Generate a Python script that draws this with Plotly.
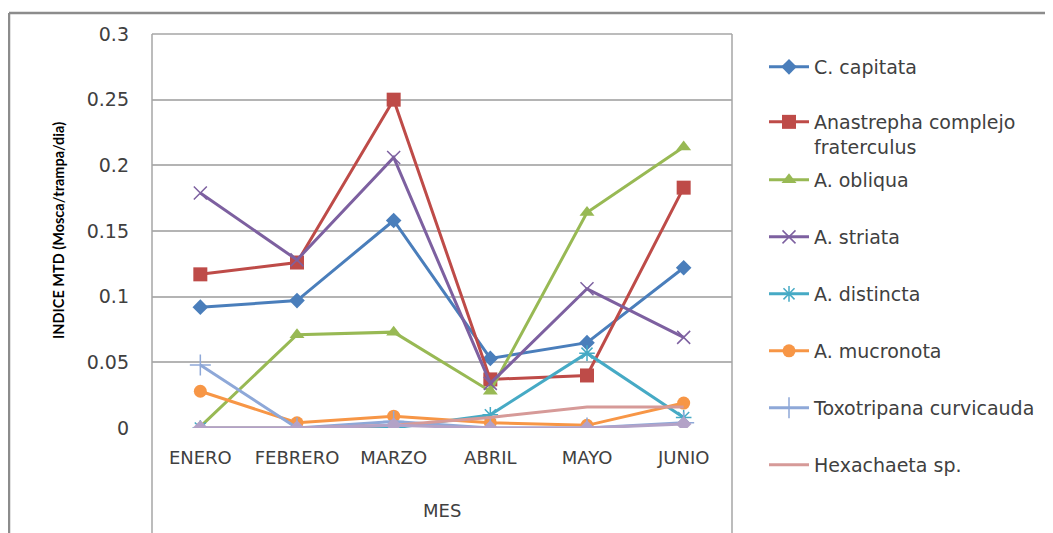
import plotly.graph_objects as go

meses = ["ENERO", "FEBRERO", "MARZO", "ABRIL", "MAYO", "JUNIO"]

c_capitata = [0.092, 0.097, 0.158, 0.053, 0.065, 0.122]
anastrepha_frat = [0.117, 0.126, 0.250, 0.037, 0.040, 0.183]
a_obliqua = [0.001, 0.071, 0.073, 0.028, 0.164, 0.214]
a_striata = [0.179, 0.128, 0.206, 0.034, 0.106, 0.069]
a_distincta = [0.0, 0.0, 0.0, 0.010, 0.057, 0.008]
a_mucronota = [0.028, 0.004, 0.009, 0.004, 0.002, 0.019]
toxotripana = [0.048, 0.0, 0.005, 0.0, 0.0, 0.004]
hexachaeta = [0.0, 0.0, 0.002, 0.008, 0.016, 0.016]
serie9 = [0.0, 0.0, 0.002, 0.0, 0.0, 0.003]

nombres = ["C. capitata", "Anastrepha complejo<br>fraterculus", "A. obliqua", "A. striata",
           "A. distincta", "A. mucronota", "Toxotripana curvicauda", "Hexachaeta sp."]

y_ticks = [0, 0.05, 0.1, 0.15, 0.2, 0.25, 0.3]
y_ticktext = ["0", "0.05", "0.1", "0.15", "0.2", "0.25", "0.3"]

FONT = "DejaVu Sans"
TXT = "#404040"

# page offset (browser body margin) and window size
OFF = 8
WIN_W, WIN_H = 1053, 533
# plot area in screen pixels
L, R, T, B = 152, 732, 34, 428
ph = B - T
pw = R - L

def py(p):
    return (B - p) / ph

def px(p):
    return (p - L) / pw

styles = [
    dict(color="#4A7EBB", symbol="diamond", size=12, lw=0),
    dict(color="#BE4B48", symbol="square", size=14, lw=0),
    dict(color="#98B954", symbol="triangle-up", size=13, lw=0),
    dict(color="#7D60A0", symbol="x-thin-open", size=13, lw=1.5),
    dict(color="#46AAC5", symbol="asterisk-open", size=13, lw=1.5),
    dict(color="#F79646", symbol="circle", size=13, lw=0),
    dict(color="#8EA8D8", symbol="cross-thin-open", size=15, lw=1.5),
    dict(color="#D69A98", symbol=None, size=0, lw=0),
]
series = [c_capitata, anastrepha_frat, a_obliqua, a_striata, a_distincta,
          a_mucronota, toxotripana, hexachaeta]
legend_y = [67, 134.5, 180, 237, 294, 351, 408, 465]

fig = go.Figure()
for i, (vals, st, nm) in enumerate(zip(series, styles, nombres)):
    lname = "legend" if i == 0 else f"legend{i+1}"
    if st["symbol"] is None:
        mode = "lines"
        marker = None
    else:
        mode = "lines+markers"
        marker = dict(symbol=st["symbol"], size=st["size"], color=st["color"],
                      line=dict(color=st["color"], width=st["lw"]))
    fig.add_trace(go.Scatter(x=meses, y=vals, name=nm, mode=mode,
                             line=dict(color=st["color"], width=3),
                             marker=marker, legend=lname))

fig.add_trace(go.Scatter(x=meses, y=serie9, name="Serie 9", mode="lines+markers",
                         line=dict(color="#B3A2C7", width=3),
                         marker=dict(symbol="diamond", size=12, color="#B3A2C7"),
                         showlegend=False))

layout_legends = {}
for i, ly in enumerate(legend_y):
    lname = "legend" if i == 0 else f"legend{i+1}"
    layout_legends[lname] = dict(
        x=px(764), xanchor="left", y=py(ly), yanchor="middle",
        font=dict(family=FONT, size=19, color=TXT), valign="top",
        bgcolor="rgba(0,0,0,0)", itemwidth=40,
    )

fig.update_layout(
    width=WIN_W - OFF, height=WIN_H - OFF,
    margin=dict(l=L - OFF, r=WIN_W - R, t=T - OFF, b=WIN_H - B, pad=0),
    paper_bgcolor="white", plot_bgcolor="white",
    font=dict(family=FONT, color=TXT),
    **layout_legends,
)

fig.update_xaxes(type="category", range=[-0.5, 5.5], showgrid=False, showline=False,
                 zeroline=False, ticks="", ticklabelstandoff=17,
                 tickfont=dict(family=FONT, size=18, color=TXT))
fig.update_yaxes(range=[0, 0.3], tickvals=y_ticks, ticktext=y_ticktext,
                 showgrid=True, gridcolor="#B4B4B4", gridwidth=1.5,
                 zeroline=False, showline=False, ticks="", ticklabelstandoff=22,
                 tickfont=dict(family=FONT, size=19, color=TXT))

# Axis titles
fig.add_annotation(text="MES", xref="paper", yref="paper", x=0.5, y=py(510),
                   xanchor="center", yanchor="middle", showarrow=False,
                   font=dict(family=FONT, size=18, color=TXT))
fig.add_annotation(text="<b>INDICE MTD (Mosca/trampa/dia)</b>", xref="paper", yref="paper",
                   x=px(58), y=py(231), xanchor="center", yanchor="middle", textangle=-90,
                   showarrow=False,
                   font=dict(family="Lato", size=14.5, color="#000000"))

# plot area box (left, top, right)
box = "#A6A6A6"
fig.add_shape(type="line", xref="paper", yref="paper", x0=0, x1=0, y0=py(545), y1=1,
              line=dict(color=box, width=1.5))
fig.add_shape(type="line", xref="paper", yref="paper", x0=0, x1=1, y0=1, y1=1,
              line=dict(color=box, width=1.5))
fig.add_shape(type="line", xref="paper", yref="paper", x0=1, x1=1, y0=py(545), y1=1,
              line=dict(color=box, width=1.5))
# outer chart border (left, top)
outer = "#8C8C8C"
fig.add_shape(type="line", xref="paper", yref="paper", x0=px(9), x1=px(9), y0=py(545), y1=py(13),
              line=dict(color=outer, width=2.5))
fig.add_shape(type="line", xref="paper", yref="paper", x0=px(9), x1=px(1060), y0=py(13), y1=py(13),
              line=dict(color=outer, width=2.5))

fig.write_html("out.html")
